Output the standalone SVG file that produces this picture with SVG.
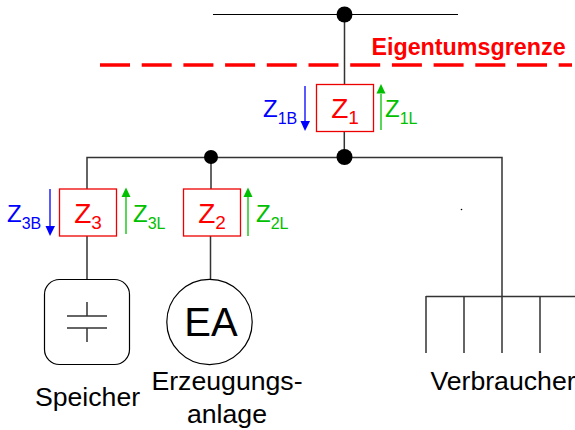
<svg xmlns="http://www.w3.org/2000/svg" width="575" height="430" viewBox="0 0 575 430">
<style>
text{font-family:"Liberation Sans",Arial,sans-serif}
.w{fill:none;stroke:#333;stroke-width:1.5}
.t{fill:none;stroke:#000;stroke-width:1.2}
.m{fill:#fff;stroke:#e00;stroke-width:1.3}
.z{font-size:28px;fill:#f00;text-anchor:middle}
.b{fill:#0000ff;font-size:24px}
.g{fill:#00c000;font-size:24px}
.s{font-size:16px}
.sz{font-size:19px}
.lab{font-size:26.670px;fill:#000;text-anchor:middle}
.ab{stroke:#0000ff;stroke-width:1.300;fill:none}
.ag{stroke:#00c000;stroke-width:1.300;fill:none}
</style>
<g id="connectors">
<path class="t" d="M213 14.500H458"/>
<path class="w" d="M344.500 14V84M344.300 131V157M87 189V157.500H502V296M87 236V279M211 157V189M210.500 236V279"/>
<path class="w" d="M426 296.500H575M426 296V353M464 296V353M502 296V353M540 296V353"/>
<path d="M100 65H572" fill="none" stroke="#f00" stroke-width="3.500" stroke-dasharray="30 11.700"/>
<path class="ab" d="M305 86V122"/><path d="M300.500 121H310L305 131Z" fill="#0000ff"/>
<path class="ag" d="M381 130V94"/><path d="M376.500 93.500H385.500L381 84Z" fill="#00c000"/>
<path class="ab" d="M50 189V226"/><path d="M45.500 226H55L50 236Z" fill="#0000ff"/>
<path class="ag" d="M126 234V197"/><path d="M121.500 197H130.500L126 187.500Z" fill="#00c000"/>
<path class="ag" d="M248 236V197"/><path d="M243.500 197H252.500L248 187.500Z" fill="#00c000"/>
<circle cx="344.500" cy="14.500" r="8"/>
<circle cx="344.500" cy="157" r="8"/>
<circle cx="211" cy="157" r="7"/>
<circle cx="461.500" cy="209.500" r="0.800"/>
</g>
<g id="boundary"><text x="468.500" y="55" font-size="23.300" font-weight="bold" fill="#f00" text-anchor="middle">Eigentumsgrenze</text></g>
<g id="z1"><rect class="m" x="316.500" y="84.500" width="57" height="47"/><text class="z" x="345" y="117.500">Z<tspan class="sz" dy="6.500">1</tspan></text></g>
<g id="z2"><rect class="m" x="183.500" y="189" width="57" height="47"/><text class="z" x="212" y="222.500">Z<tspan class="sz" dy="6.500">2</tspan></text></g>
<g id="z3"><rect class="m" x="59.500" y="189" width="57" height="47"/><text class="z" x="88" y="222.500">Z<tspan class="sz" dy="6.500">3</tspan></text></g>
<g id="z1b"><text class="b" x="263" y="117">Z<tspan class="s" dy="6.500">1B</tspan></text></g>
<g id="z1l"><text class="g" x="385" y="117">Z<tspan class="s" dy="6.500">1L</tspan></text></g>
<g id="z3b"><text class="b" x="7" y="222">Z<tspan class="s" dy="6.500">3B</tspan></text></g>
<g id="z3l"><text class="g" x="133" y="222">Z<tspan class="s" dy="6.500">3L</tspan></text></g>
<g id="z2l"><text class="g" x="256" y="222">Z<tspan class="s" dy="6.500">2L</tspan></text></g>
<g id="speicher"><rect class="t" x="44.500" y="279.500" width="85" height="85" rx="15"/><path class="w" d="M67 316H107M67 328H107M87 302V316M87 328V342"/><text class="lab" x="87.500" y="406">Speicher</text></g>
<g id="ea"><circle class="t" cx="209.500" cy="322" r="42.700"/><text x="211" y="335.500" font-size="40" fill="#000" text-anchor="middle">EA</text><text class="lab" x="227" y="390">Erzeugungs-</text><text class="lab" x="227" y="423">anlage</text></g>
<g id="verbraucher"><text class="lab" x="503" y="390">Verbraucher</text></g>
</svg>
